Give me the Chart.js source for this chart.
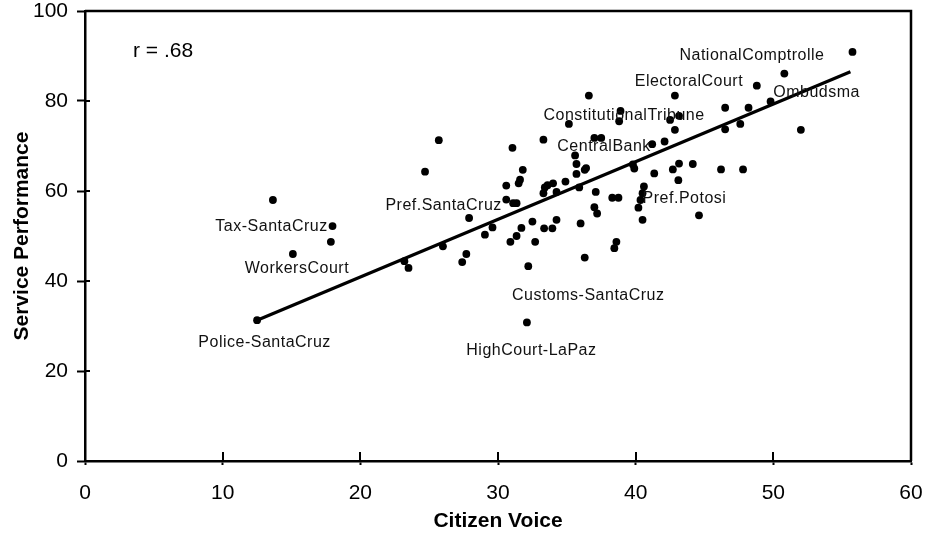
<!DOCTYPE html>
<html>
<head>
<meta charset="utf-8">
<script src="https://cdn.jsdelivr.net/npm/chart.js@4.4.1/dist/chart.umd.min.js"></script>
<style>
  html, body { margin: 0; padding: 0; background: #fff; }
  #wrap { width: 935px; height: 537px; }
</style>
</head>
<body>
<div id="wrap"><canvas id="c" width="935" height="537"></canvas></div>
<script>
// Citizen voice score (x) and service performance score (y) per agency
const voice = [
  12.5, 13.65, 17.98, 17.86, 15.1, 23.2, 23.5, 24.7, 25.7, 26.0,
  27.4, 27.7, 27.9, 29.05, 29.6, 30.6, 30.6, 31.05, 31.1, 31.35,
  31.5, 31.6, 31.8, 30.9, 31.35, 31.7, 32.5, 32.7, 32.2, 32.1,
  33.3, 33.3, 33.4, 33.6, 34.0, 34.25, 34.9, 33.35, 33.95, 34.25,
  35.15, 35.6, 35.7, 35.7, 35.9, 36.0, 36.3, 36.3, 36.4, 36.6,
  37.0, 37.5, 37.1, 37.0, 37.2, 38.3, 38.75, 38.6, 38.45, 38.9,
  38.8, 39.8, 39.9, 40.6, 40.5, 40.35, 40.2, 40.5, 41.35, 41.2,
  42.1, 42.5, 43.15, 42.85, 42.85, 43.15, 42.7, 43.1, 44.15, 44.6,
  46.2, 47.8, 46.5, 46.5, 47.6, 48.2, 48.8, 49.8, 50.8, 52.0,
  55.75
];
const service = [
  31.3, 58.0, 52.2, 48.7, 46.0, 44.4, 42.9, 64.3, 71.3, 47.7,
  44.2, 46.0, 54.0, 50.3, 51.9, 61.2, 58.1, 69.6, 57.3, 57.3,
  61.7, 62.5, 64.7, 48.7, 50.0, 51.8, 53.2, 48.7, 43.3, 30.8,
  71.4, 59.5, 60.8, 61.3, 61.7, 59.8, 62.1, 51.7, 51.7, 53.6,
  74.9, 67.9, 66.0, 63.8, 60.8, 52.8, 45.2, 64.7, 65.1, 81.2,
  71.8, 71.8, 59.8, 56.4, 55.0, 58.5, 58.5, 48.7, 47.3, 77.8,
  75.5, 65.9, 65.0, 61.0, 59.5, 58.0, 56.3, 53.6, 63.9, 70.4,
  71.0, 75.8, 76.7, 73.6, 81.2, 66.1, 64.8, 62.4, 66.0, 54.6,
  64.8, 64.8, 78.5, 73.7, 74.9, 78.5, 83.4, 79.9, 86.1, 73.6,
  90.9
];

// Least-squares fit line end points
const trendVoice = [12.5, 55.6];
const trendService = [31.3, 86.5];

const xTicks = [0, 10, 20, 30, 40, 50, 60];
const yTicks = [0, 20, 40, 60, 80, 100];

const corrText = 'r = .68';

// Agencies named on the plot and the point each name belongs to
const labelNames = [
  'Police-SantaCruz', 'Tax-SantaCruz', 'WorkersCourt', 'Pref.SantaCruz',
  'HighCourt-LaPaz', 'Customs-SantaCruz', 'CentralBank', 'ConstitutionalTribune',
  'ElectoralCourt', 'NationalComptrolle', 'Ombudsma', 'Pref.Potosi'
];
const labelPoint = [0, 2, 4, 12, 29, 46, 41, 59, 74, 90, 87, 65];

// Placement of each name relative to its point (pixels, text centre)
const labelShift = [
  [7.5, 22], [-61, 0], [4, 15], [-25.5, -12],
  [4.5, 28], [3.5, 38], [29, -9], [3.5, 5],
  [14, -14], [-100.5, 3.5], [46, -9], [44, -1]
];

const FONT = '"Liberation Sans", Arial, Helvetica, sans-serif';

const points = voice.map((v, i) => ({ x: v, y: service[i] }));
const trend = trendVoice.map((v, i) => ({ x: v, y: trendService[i] }));

const decorations = {
  id: 'decorations',
  afterDraw(chart) {
    const { ctx, chartArea: a, scales: { x, y } } = chart;
    ctx.save();
    // frame on top and right
    ctx.strokeStyle = '#000';
    ctx.lineWidth = 2.5;
    ctx.beginPath();
    ctx.moveTo(a.left, a.top);
    ctx.lineTo(a.right, a.top);
    ctx.lineTo(a.right, a.bottom);
    ctx.stroke();
    // inner parts of the tick marks
    ctx.lineWidth = 2;
    ctx.beginPath();
    xTicks.forEach(v => {
      const px = Math.round(x.getPixelForValue(v));
      if (v === xTicks[0]) return;
      ctx.moveTo(px, a.bottom);
      ctx.lineTo(px, a.bottom - 9);
    });
    yTicks.forEach(v => {
      const py = Math.round(y.getPixelForValue(v));
      if (v === yTicks[0]) return;
      ctx.moveTo(a.left, py);
      ctx.lineTo(a.left + 5, py);
    });
    ctx.stroke();

    // correlation note
    ctx.fillStyle = '#000';
    ctx.font = '21px ' + FONT;
    ctx.textAlign = 'left';
    ctx.textBaseline = 'middle';
    ctx.fillText(corrText, a.left + 48, a.top + 40);

    // agency names
    ctx.font = '16px ' + FONT;
    ctx.letterSpacing = '0.5px';
    ctx.fillStyle = '#111';
    ctx.textAlign = 'center';
    labelNames.forEach((name, k) => {
      const i = labelPoint[k];
      const px = x.getPixelForValue(voice[i]) + labelShift[k][0];
      const py = y.getPixelForValue(service[i]) + labelShift[k][1];
      ctx.fillText(name, px, py);
    });
    ctx.restore();
  }
};

new Chart(document.getElementById('c'), {
  data: {
    datasets: [
      {
        type: 'scatter',
        data: points,
        pointRadius: 3.9,
        pointBackgroundColor: '#000',
        pointBorderWidth: 0,
        pointHoverRadius: 3.9
      },
      {
        type: 'line',
        data: trend,
        borderColor: '#000',
        borderWidth: 3.2,
        pointRadius: 0,
        fill: false
      }
    ]
  },
  options: {
    responsive: false,
    animation: false,
    devicePixelRatio: 1,
    layout: { padding: { left: 0, right: 24, top: 11, bottom: 0 } },
    plugins: { legend: { display: false }, tooltip: { enabled: false } },
    scales: {
      x: {
        type: 'linear',
        min: 0, max: 60,
        afterBuildTicks: s => { s.ticks = xTicks.map(v => ({ value: v })); },
        afterFit: s => { s.height = 76; s.paddingLeft = 0; s.paddingRight = 0; },
        border: { display: true, color: '#000', width: 2.5 },
        grid: { drawOnChartArea: false, drawTicks: true, tickLength: 4, tickColor: '#000', tickWidth: 2 },
        ticks: { color: '#000', padding: 17.5, font: { family: FONT, size: 21, lineHeight: 1 }, maxRotation: 0 },
        title: { display: true, text: 'Citizen Voice', color: '#000',
                 font: { family: FONT, size: 21, weight: 'bold' }, padding: { top: 0, bottom: 3.4 } }
      },
      y: {
        type: 'linear',
        min: 0, max: 100,
        afterBuildTicks: s => { s.ticks = yTicks.map(v => ({ value: v })); },
        afterFit: s => { s.width = 85; s.paddingTop = 0; s.paddingBottom = 0; },
        border: { display: true, color: '#000', width: 2.5 },
        grid: { drawOnChartArea: false, drawTicks: true, tickLength: 8, tickColor: '#000', tickWidth: 2 },
        ticks: { color: '#000', padding: 9, font: { family: FONT, size: 21, lineHeight: 1 } },
        title: { display: true, text: 'Service Performance', color: '#000',
                 font: { family: FONT, size: 21, weight: 'bold' }, padding: { top: 10, bottom: 0 } }
      }
    }
  },
  plugins: [decorations]
});
</script>
</body>
</html>
